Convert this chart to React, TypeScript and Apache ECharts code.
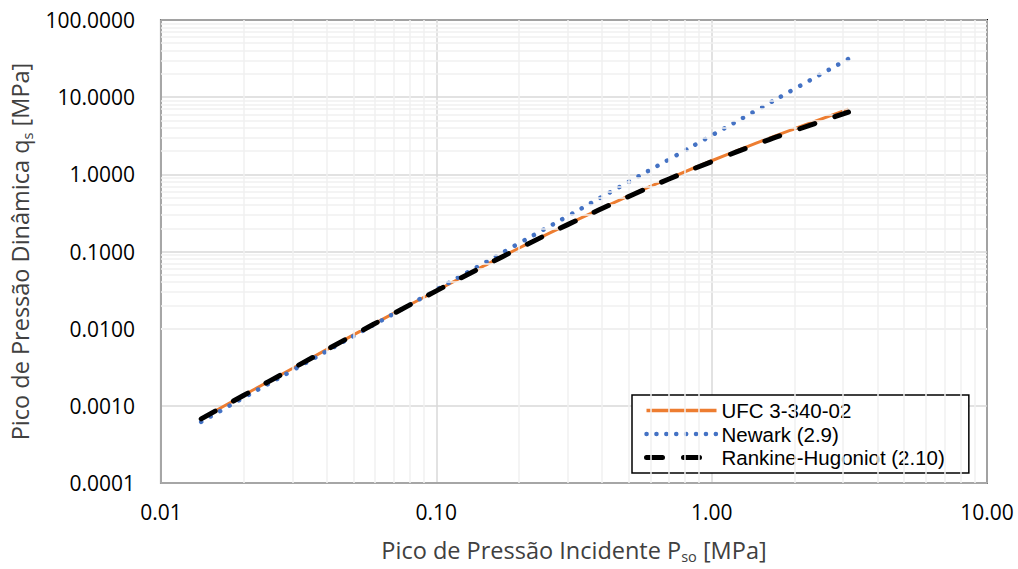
import React, { useEffect, useRef } from "react";
import * as echarts from "echarts";

const pressure = [0.014, 0.02, 0.03, 0.05, 0.07, 0.1, 0.15, 0.2, 0.3, 0.5, 0.7, 1.0, 1.5, 2.0, 3.14];
const ufc = [0.00068, 0.00138, 0.00305, 0.0083, 0.0158, 0.031, 0.066, 0.111, 0.225, 0.525, 0.885, 1.5, 2.65, 3.9, 7.0];
const newark = [0.00062, 0.00128, 0.00287, 0.0080, 0.0156, 0.0319, 0.0718, 0.128, 0.287, 0.80, 1.56, 3.19, 7.18, 12.8, 31.4];
const rankine = [0.000677, 0.00137, 0.00304, 0.00823, 0.0157, 0.0309, 0.0655, 0.110, 0.223, 0.517, 0.869, 1.46, 2.55, 3.69, 6.4];

const xMinorGrid = [0.02, 0.03, 0.04, 0.05, 0.06, 0.07, 0.08, 0.09, 0.2, 0.3, 0.4, 0.5, 0.6, 0.7, 0.8, 0.9, 2, 3, 4, 5, 6, 7, 8, 9];
const yMinorGrid = [
  0.0002, 0.0003, 0.0004, 0.0005, 0.0006, 0.0007, 0.0008, 0.0009,
  0.002, 0.003, 0.004, 0.005, 0.006, 0.007, 0.008, 0.009,
  0.02, 0.03, 0.04, 0.05, 0.06, 0.07, 0.08, 0.09,
  0.2, 0.3, 0.4, 0.5, 0.6, 0.7, 0.8, 0.9,
  2, 3, 4, 5, 6, 7, 8, 9,
  20, 30, 40, 50, 60, 70, 80, 90,
];

const FONT = "'Open Sans', 'Liberation Sans', sans-serif";
const LEGEND_FONT = "'Liberation Sans', Arial, sans-serif";

const UFC_STYLE = { color: "#ED7D31", width: 3 };
const NEWARK_STYLE = { color: "#4472C4", width: 4.5, type: [0.1, 10.8], cap: "round" };
const RH_STYLE = { color: "#000000", width: 5, type: [16, 21], cap: "round" };

export default function App() {
  const ref = useRef<HTMLDivElement>(null);
  useEffect(() => {
    if (!ref.current) return;
    const chart = echarts.init(ref.current, null, { renderer: "svg" });
    const pair = (ys: number[]) => pressure.map((p, i) => [p, ys[i]]);
    chart.setOption({
      animation: false,
      backgroundColor: "#ffffff",
      textStyle: { fontFamily: FONT },
      grid: {
        left: 157, right: 31, top: 20, bottom: 83,
        show: true, borderColor: "#000000", borderWidth: 2, backgroundColor: "transparent",
      },
      legend: {
        data: [
          { name: "UFC 3-340-02", lineStyle: { color: "#ED7D31", width: 3.5, type: "solid" } },
          { name: "Newark (2.9)", lineStyle: { ...NEWARK_STYLE, type: [0.1, 9.8] } },
          { name: "Rankine-Hugoniot (2.10)", lineStyle: { ...RH_STYLE } },
        ],
        orient: "vertical",
        left: 632, top: 395,
        padding: [5, 24, 5, 12],
        itemGap: 2.5,
        itemWidth: 70,
        itemHeight: 21,
        backgroundColor: "#ffffff",
        borderColor: "#000000",
        borderWidth: 1.5,
        itemStyle: { opacity: 0 },
        textStyle: { fontFamily: LEGEND_FONT, fontSize: 20.5, lineHeight: 21, color: "#000000" },
      },
      xAxis: {
        type: "log", logBase: 10, min: 0.01, max: 10, interval: 1,
        name: "{a|Pico de Pressão Incidente P}{s|so}{a| [MPa]}",
        nameLocation: "middle", nameGap: 52,
        nameTextStyle: {
          rich: {
            a: { fontFamily: FONT, fontSize: 23.5, color: "#404040" },
            s: { fontFamily: FONT, fontSize: 14.5, color: "#404040", padding: [14, 0, 0, 0] },
          },
        },
        axisLine: { show: true, lineStyle: { color: "#a6a6a6", width: 2 } },
        axisTick: { show: false },
        axisLabel: { margin: 18, fontSize: 21, color: "#000000", fontFamily: FONT, formatter: (v: number) => v.toFixed(2) },
        splitLine: { show: true, lineStyle: { color: "#d9d9d9", width: 1.5 } },
      },
      yAxis: {
        type: "log", logBase: 10, min: 0.0001, max: 100, interval: 1,
        name: "{a|Pico de Pressão Dinâmica q}{s|s}{a| [MPa]}",
        nameLocation: "middle", nameGap: 119, nameRotate: 90,
        nameTextStyle: {
          rich: {
            a: { fontFamily: FONT, fontSize: 23.5, color: "#404040" },
            s: { fontFamily: FONT, fontSize: 14.5, color: "#404040", padding: [14, 0, 0, 0] },
          },
        },
        axisLine: { show: true, lineStyle: { color: "#a6a6a6", width: 2 } },
        axisTick: { show: false },
        axisLabel: { margin: 26, fontSize: 21, color: "#000000", fontFamily: FONT, formatter: (v: number) => v.toFixed(4) },
        splitLine: { show: true, lineStyle: { color: "#d9d9d9", width: 1.5 } },
      },
      series: [
        {
          name: "minor-grid",
          type: "line",
          data: [],
          silent: true,
          z: 0,
          markLine: {
            silent: true,
            symbol: "none",
            label: { show: false },
            lineStyle: { color: "#f0f0f0", width: 1.5, type: "solid" },
            data: [
              ...xMinorGrid.map((v) => ({ xAxis: v })),
              ...yMinorGrid.map((v) => ({ yAxis: v })),
            ],
          },
        },
        {
          name: "UFC 3-340-02",
          type: "line",
          data: pair(ufc),
          smooth: true,
          showSymbol: false,
          symbol: "none",
          z: 3,
          lineStyle: UFC_STYLE,
          itemStyle: { color: "#ED7D31" },
        },
        {
          name: "Newark (2.9)",
          type: "line",
          data: pair(newark),
          smooth: true,
          showSymbol: false,
          symbol: "none",
          z: 4,
          lineStyle: NEWARK_STYLE,
          itemStyle: { color: "#4472C4" },
        },
        {
          name: "Rankine-Hugoniot (2.10)",
          type: "line",
          data: pair(rankine),
          smooth: true,
          showSymbol: false,
          symbol: "none",
          z: 5,
          lineStyle: RH_STYLE,
          itemStyle: { color: "#000000" },
        },
      ],
    });
    return () => chart.dispose();
  }, []);
  return <div ref={ref} style={{ width: 1018, height: 569, position: "absolute", left: 0, top: 0 }} />;
}
